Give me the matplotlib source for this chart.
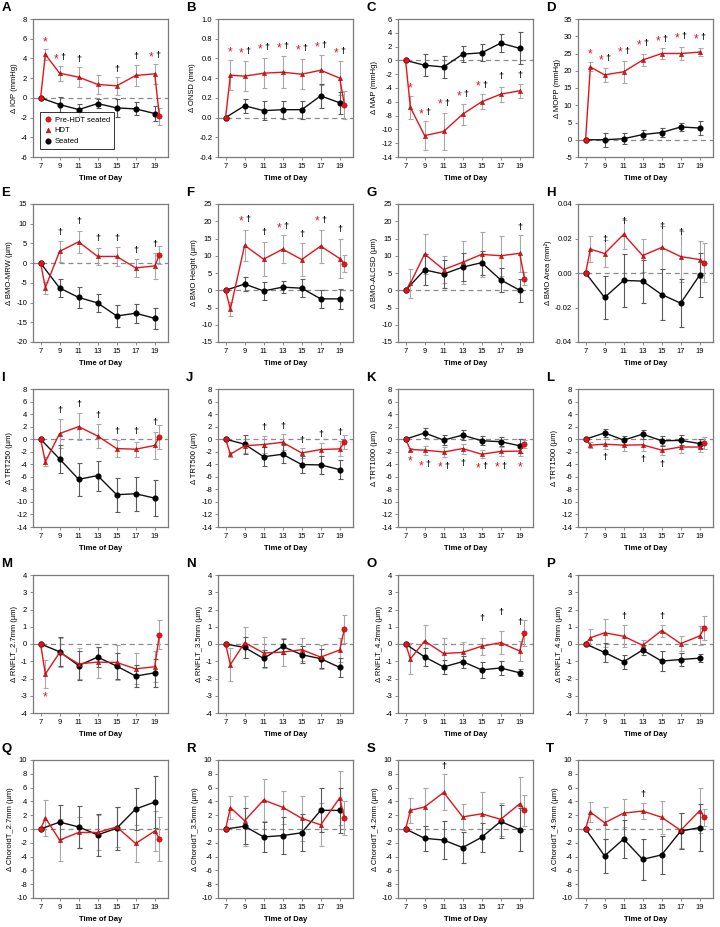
#!/usr/bin/env python3
"""Diurnal change panels: seated vs head-down tilt (HDT), 20 outcome measures."""
import numpy as np
import matplotlib
matplotlib.use("Agg")
import matplotlib.pyplot as plt
from matplotlib.lines import Line2D

plt.rcParams.update({
    "font.family": ["Liberation Sans", "DejaVu Sans"],
    "axes.unicode_minus": False,
    "font.size": 5.5,
})

HOURS_SEATED = [7, 9, 11, 13, 15, 17, 19]
HOURS_HDT = [7.5, 9, 11, 13, 15, 17, 19]
HOURS_PRE = [7, 19.5]

# ---- data (mean change, SD-type bar) ----
A_seat = [0, -0.68, -1.19, -0.58, -1.02, -1.12, -1.59]
A_seat_sd = [0, 0.75, 0.6, 0.45, 0.9, 0.65, 0.75]
A_hdt = [4.4, 2.5, 2.1, 1.36, 1.22, 2.27, 2.44]
A_hdt_sd = [0.6, 0.75, 1.0, 1.0, 0.9, 1.1, 1.0]
A_pre = [0, -1.86]
A_pre_sd = [0, 0.85]
A_marks = [(7.5, 5.8, "*"), (9, 4.1, "*†"), (11, 3.9, "†"), (15, 2.9, "†"),
           (17, 4.2, "†"), (19, 4.3, "*†")]

B_seat = [0, 0.12, 0.07, 0.08, 0.08, 0.22, 0.15]
B_seat_sd = [0, 0.07, 0.095, 0.09, 0.09, 0.12, 0.11]
B_hdt = [0.43, 0.42, 0.45, 0.46, 0.44, 0.48, 0.40]
B_hdt_sd = [0.15, 0.15, 0.15, 0.16, 0.15, 0.15, 0.17]
B_pre = [0, 0.13]
B_pre_sd = [0, 0.14]
B_marks = [(7.5, 0.68, "*"), (9, 0.67, "*†"), (11, 0.71, "*†"), (13, 0.72, "*†"),
           (15, 0.70, "*†"), (17, 0.73, "*†"), (19, 0.67, "*†")]

C_seat = [0, -0.7, -0.95, 0.9, 1.1, 2.5, 1.75]
C_seat_sd = [0, 1.6, 1.6, 1.2, 1.25, 1.3, 2.3]
C_hdt = [-6.8, -10.9, -10.3, -7.8, -6.0, -4.9, -4.4]
C_hdt_sd = [1.7, 2.05, 2.7, 1.5, 1.1, 1.1, 1.0]
C_pre = [0]
C_pre_sd = [0]
C_marks = [(7.5, -3.8, "*"), (9, -7.6, "*†"), (11, -6.2, "*†"), (13, -5.0, "*†"),
           (15, -3.6, "*†"), (17, -2.3, "†"), (19, -2.2, "†")]

D_seat = [0, 0.0, 0.3, 1.5, 2.1, 3.7, 3.4]
D_seat_sd = [0, 2.0, 1.6, 1.2, 1.2, 1.3, 2.0]
D_hdt = [21.1, 18.8, 19.7, 23.1, 25.0, 25.0, 25.4]
D_hdt_sd = [1.3, 2.0, 3.2, 1.8, 1.5, 2.0, 1.2]
D_pre = [0]
D_pre_sd = [0]
D_marks = [(7.5, 25.2, "*"), (9, 23.5, "*†"), (11, 25.7, "*†"), (13, 27.9, "*†"),
           (15, 29.1, "*†"), (17, 29.8, "*†"), (19, 29.5, "*†")]

E_seat = [0, -6.3, -8.7, -10.1, -13.4, -12.7, -14.0]
E_seat_sd = [0, 2.2, 2.6, 2.2, 2.8, 2.4, 2.6]
E_hdt = [-6.2, 3.0, 5.4, 1.7, 1.7, -1.2, -0.7]
E_hdt_sd = [1.5, 2.7, 2.8, 2.2, 2.5, 2.3, 3.2]
E_pre = [0, 2.1]
E_pre_sd = [0, 2.3]
E_marks = [(9, 7.8, "†"), (11, 10.5, "†"), (13, 6.2, "†"), (15, 6.2, "†"),
           (17, 3.2, "†"), (19, 4.7, "†")]

F_seat = [0, 1.8, -0.2, 0.9, 0.6, -2.5, -2.5]
F_seat_sd = [0, 2.1, 2.7, 1.8, 2.6, 2.6, 2.9]
F_hdt = [-5.5, 13.0, 9.0, 11.9, 8.9, 12.8, 9.2]
F_hdt_sd = [2.0, 4.6, 5.0, 4.0, 4.7, 4.8, 5.7]
F_pre = [0, 7.7]
F_pre_sd = [0, 2.5]
F_marks = [(9, 20.5, "*†"), (11, 16.6, "†"), (13, 18.4, "*†"), (15, 16.2, "†"),
           (17, 20.3, "*†"), (19, 17.6, "†")]

G_seat = [0, 5.9, 4.7, 6.7, 8.0, 3.0, 0.0]
G_seat_sd = [0, 4.5, 4.0, 4.0, 3.5, 3.5, 3.4]
G_hdt = [2.0, 10.5, 6.0, 8.1, 10.4, 10.0, 10.7]
G_hdt_sd = [4.2, 5.8, 4.0, 6.2, 6.5, 5.8, 5.3]
G_pre = [0, 3.4]
G_pre_sd = [0, 2.0]
G_marks = [(19, 18.3, "†")]

H_seat = [0, -0.0142, -0.0043, -0.0047, -0.0125, -0.0175, -0.0012]
H_seat_sd = [0, 0.0125, 0.0155, 0.0125, 0.015, 0.014, 0.013]
H_hdt = [0.0138, 0.0113, 0.0224, 0.0101, 0.0148, 0.0095, 0.0078]
H_hdt_sd = [0.0075, 0.008, 0.0085, 0.0095, 0.0125, 0.015, 0.0105]
H_pre = [0, 0.006]
H_pre_sd = [0, 0.0115]
H_marks = [(9, 0.0193, "†"), (11, 0.030, "†"), (15, 0.0267, "†"), (17, 0.0232, "†")]

I_seat = [0, -3.15, -6.4, -5.8, -8.85, -8.7, -9.4]
I_seat_sd = [0, 2.2, 2.6, 2.4, 2.7, 2.7, 2.9]
I_hdt = [-3.6, 0.9, 2.0, 0.5, -1.5, -1.6, -1.0]
I_hdt_sd = [0.7, 2.3, 2.2, 1.9, 1.3, 1.2, 2.2]
I_pre = [0, 0.4]
I_pre_sd = [0, 1.9]
I_marks = [(9, 4.6, "†"), (11, 5.6, "†"), (13, 3.7, "†"), (15, 1.3, "†"),
           (17, 1.3, "†"), (19, 2.6, "†")]

J_seat = [0, -0.8, -2.8, -2.4, -4.05, -4.1, -4.85]
J_seat_sd = [0, 1.5, 1.5, 1.4, 1.4, 1.4, 1.5]
J_hdt = [-2.4, -1.05, -0.85, -0.5, -2.2, -1.65, -1.55]
J_hdt_sd = [0.4, 1.1, 1.3, 1.3, 0.8, 1.0, 1.2]
J_pre = [0, -0.5]
J_pre_sd = [0, 1.1]
J_marks = [(11, 1.9, "†"), (13, 2.1, "†"), (15, -0.15, "†"), (17, 0.8, "†"), (19, 1.05, "†")]

K_seat = [0, 1.0, -0.15, 0.65, -0.25, -0.4, -1.05]
K_seat_sd = [0, 0.75, 0.8, 0.75, 0.75, 0.75, 1.1]
K_hdt = [-1.65, -1.75, -2.05, -1.5, -2.4, -1.95, -1.9]
K_hdt_sd = [0.3, 0.7, 0.8, 0.8, 0.6, 0.75, 0.75]
K_pre = [0, -0.8]
K_pre_sd = [0, 0.6]
K_marks = [(7.5, -3.35, "*"), (9, -4.05, "*†"), (11, -4.3, "*†"), (13, -3.8, "†"),
           (15, -4.4, "*†"), (17, -4.3, "*†"), (19, -4.2, "*")]

L_seat = [0, 1.0, -0.15, 0.8, -0.25, -0.2, -0.7]
L_seat_sd = [0, 0.6, 0.7, 0.7, 0.8, 0.8, 0.7]
L_hdt = [-0.95, -0.8, -0.95, -0.9, -1.75, -1.25, -1.25]
L_hdt_sd = [0.45, 0.8, 0.9, 1.0, 0.8, 0.95, 0.8]
L_pre = [0, -0.6]
L_pre_sd = [0, 0.9]
L_marks = [(9, -3.0, "†"), (13, -3.2, "†"), (15, -4.05, "†")]

M_seat = [0, -0.45, -1.25, -0.76, -1.28, -1.86, -1.67]
M_seat_sd = [0, 0.85, 0.85, 0.6, 0.75, 0.65, 0.8]
M_hdt = [-1.75, -0.49, -1.15, -1.05, -1.07, -1.44, -1.32]
M_hdt_sd = [0.8, 0.85, 0.9, 0.9, 1.0, 0.9, 0.9]
M_pre = [0, 0.54]
M_pre_sd = [0, 0.85]
M_marks = [(7.5, -3.0, "*")]

N_seat = [0, -0.2, -0.84, -0.14, -0.62, -0.85, -1.36]
N_seat_sd = [0, 0.6, 0.5, 0.45, 0.5, 0.55, 0.55]
N_hdt = [-1.2, 0.08, -0.52, -0.47, -0.33, -0.76, -0.35]
N_hdt_sd = [0.95, 0.9, 0.9, 0.8, 0.65, 0.7, 0.7]
N_pre = [0, 0.89]
N_pre_sd = [0, 0.82]
N_marks = []

O_seat = [0, -0.75, -1.33, -1.02, -1.5, -1.39, -1.67]
O_seat_sd = [0, 0.5, 0.4, 0.35, 0.45, 0.4, 0.2]
O_hdt = [-0.86, 0.17, -0.55, -0.49, -0.13, 0.08, -0.41]
O_hdt_sd = [0.9, 0.95, 0.9, 0.6, 0.5, 0.65, 0.6]
O_pre = [0, 0.62]
O_pre_sd = [0, 0.75]
O_marks = [(15, 1.45, "†"), (17, 1.85, "†"), (19, 1.27, "†")]

P_seat = [0, -0.49, -1.03, -0.35, -0.99, -0.9, -0.82]
P_seat_sd = [0, 0.55, 0.4, 0.3, 0.6, 0.35, 0.25]
P_hdt = [0.36, 0.65, 0.45, -0.08, 0.78, 0.02, 0.47]
P_hdt_sd = [0.5, 0.8, 0.65, 0.3, 0.35, 0.45, 0.55]
P_pre = [0, 0.93]
P_pre_sd = [0, 0.7]
P_marks = [(11, 1.6, "†"), (15, 1.6, "†")]

Q_seat = [0, 1.0, 0.3, -0.85, 0.1, 2.9, 3.9]
Q_seat_sd = [0, 2.5, 3.0, 3.0, 3.1, 3.0, 3.8]
Q_hdt = [1.6, -1.6, -0.5, -0.5, 0.3, -2.1, -0.3]
Q_hdt_sd = [2.6, 3.1, 2.3, 2.6, 2.9, 2.7, 2.9]
Q_pre = [0, -1.4]
Q_pre_sd = [0, 3.2]
Q_marks = []

R_seat = [0, 0.4, -1.15, -0.95, -0.55, 2.7, 2.7]
R_seat_sd = [0, 2.6, 2.2, 2.7, 2.7, 3.2, 3.3]
R_hdt = [3.1, 1.2, 4.2, 3.15, 1.55, 0.6, 4.5]
R_hdt_sd = [1.7, 3.6, 3.1, 2.4, 3.3, 3.1, 3.9]
R_pre = [0, 1.6]
R_pre_sd = [0, 2.5]
R_marks = []

S_seat = [0, -1.35, -1.6, -2.7, -1.2, 1.1, -0.1]
S_seat_sd = [0, 1.85, 2.7, 2.25, 2.1, 2.4, 3.1]
S_hdt = [2.7, 3.2, 5.3, 1.75, 2.2, 1.4, 3.65]
S_hdt_sd = [1.8, 2.8, 2.6, 1.9, 3.1, 2.4, 3.9]
S_pre = [0, 2.7]
S_pre_sd = [0, 2.3]
S_marks = [(11, 9.0, "†")]

T_seat = [0, -3.9, -1.45, -4.4, -3.75, -0.3, 0.2]
T_seat_sd = [0, 2.5, 2.8, 3.0, 2.7, 2.6, 3.4]
T_hdt = [2.45, 0.9, 2.3, 2.6, 1.7, -0.2, 2.65]
T_hdt_sd = [1.5, 2.3, 2.0, 1.2, 2.4, 2.5, 3.3]
T_pre = [0, 1.7]
T_pre_sd = [0, 1.2]
T_marks = [(13, 5.0, "†")]

YLABELS = {
    "A": "Δ IOP (mmHg)", "B": "Δ ONSD (mm)", "C": "Δ MAP (mmHg)", "D": "Δ MOPP (mmHg)",
    "E": "Δ BMO-MRW (µm)", "F": "Δ BMO Height (µm)", "G": "Δ BMO-ALCSD (µm)",
    "H": "Δ BMO Area (mm²)",
    "I": "Δ TRT250 (µm)", "J": "Δ TRT500 (µm)", "K": "Δ TRT1000 (µm)", "L": "Δ TRT1500 (µm)",
    "M": "Δ RNFLT_2.7mm (µm)", "N": "Δ RNFLT_3.5mm (µm)", "O": "Δ RNFLT_4.2mm (µm)",
    "P": "Δ RNFLT_4.9mm (µm)",
    "Q": "Δ ChoroidT_2.7mm (µm)", "R": "Δ ChoroidT_3.5mm (µm)", "S": "Δ ChoroidT_4.2mm (µm)",
    "T": "Δ ChoroidT_4.9mm (µm)",
}
# (ymin, ymax, step, tick format)
YAXES = {
    "A": (-6, 8, 2, "{:.0f}"), "B": (-0.4, 1.0, 0.2, "{:.1f}"), "C": (-14, 6, 2, "{:.0f}"),
    "D": (-5, 35, 5, "{:.0f}"), "E": (-20, 15, 5, "{:.0f}"), "F": (-15, 25, 5, "{:.0f}"),
    "G": (-15, 25, 5, "{:.0f}"), "H": (-0.04, 0.04, 0.02, "{:.2f}"),
    "I": (-14, 8, 2, "{:.0f}"), "J": (-14, 8, 2, "{:.0f}"), "K": (-14, 8, 2, "{:.0f}"),
    "L": (-14, 8, 2, "{:.0f}"),
    "M": (-4, 4, 1, "{:.0f}"), "N": (-4, 4, 1, "{:.0f}"), "O": (-4, 4, 1, "{:.0f}"),
    "P": (-4, 4, 1, "{:.0f}"),
    "Q": (-10, 10, 2, "{:.0f}"), "R": (-10, 10, 2, "{:.0f}"), "S": (-10, 10, 2, "{:.0f}"),
    "T": (-10, 10, 2, "{:.0f}"),
}

RED = "#e4141b"
SPINE = "#7a7a7a"
COL_LEFT = [33, 218, 398, 578]
ROW_TOP = [19, 204, 389, 575, 760]
W_PX, H_PX = 135, 138


def draw_marks(ax, marks):
    for x, y, kind in marks:
        if kind == "*†":
            ax.annotate("*", (x, y), xytext=(-2.6, -1.2), textcoords="offset points",
                        ha="center", va="center", color=RED, fontsize=8.5)
            ax.annotate("†", (x, y), xytext=(2.4, 0), textcoords="offset points",
                        ha="center", va="center", color="black", fontsize=6.5,
                        fontweight="bold")
        elif kind == "*":
            ax.annotate("*", (x, y), xytext=(0, -1.2), textcoords="offset points",
                        ha="center", va="center", color=RED, fontsize=8.5)
        else:
            ax.annotate("†", (x, y), ha="center", va="center", color="black",
                        fontsize=6.5, fontweight="bold")


def panel(ax, key):
    g = globals()
    seat, seat_sd = g[key + "_seat"], g[key + "_seat_sd"]
    hdt, hdt_sd = g[key + "_hdt"], g[key + "_hdt_sd"]
    pre, pre_sd = g[key + "_pre"], g[key + "_pre_sd"]
    pre_x = HOURS_PRE[:len(pre)]

    ax.axhline(0, color="#8a8a8a", lw=0.9, ls=(0, (4, 3)), zorder=1)

    ekw = dict(fmt="none", elinewidth=0.8, capsize=1.8, capthick=0.8, zorder=2)
    ax.errorbar(HOURS_HDT, hdt, yerr=hdt_sd, ecolor="#a8a8a8", **ekw)
    ax.errorbar(pre_x, pre, yerr=pre_sd, ecolor="#a8a8a8", **ekw)
    ax.errorbar(HOURS_SEATED, seat, yerr=seat_sd, ecolor="#5a5a5a", **ekw)

    ax.plot(HOURS_SEATED, seat, color="#111111", lw=1.0, marker="o", ms=3.4,
            mfc="black", mec="black", zorder=3)
    red_x = [pre_x[0]] + HOURS_HDT + pre_x[1:]
    red_y = [pre[0]] + hdt + pre[1:]
    ax.plot(red_x, red_y, color=RED, lw=1.0, zorder=4)
    ax.plot(HOURS_HDT, hdt, ls="none", marker="^", ms=3.0, mfc=RED, mec="#9a0a0a",
            mew=0.4, zorder=5)
    ax.plot(pre_x, pre, ls="none", marker="o", ms=3.8, mfc=RED, mec="#9a0a0a",
            mew=0.4, zorder=6)

    draw_marks(ax, g[key + "_marks"])

    lo, hi, step, fmt = YAXES[key]
    ticks = np.arange(lo, hi + step / 2, step)
    ax.set_ylim(lo, hi)
    ax.set_yticks(ticks)
    ax.set_yticklabels([fmt.format(t + 0.0) if abs(t) > 1e-9 else fmt.format(0.0)
                        for t in ticks])
    ax.set_xlim(6.2, 20.4)
    ax.set_xticks([7, 9, 11, 13, 15, 17, 19])
    ax.tick_params(length=2.2, width=0.6, pad=2, labelsize=5.5, color=SPINE)
    for s in ax.spines.values():
        s.set_color(SPINE)
        s.set_linewidth(0.9)
    ax.set_xlabel("Time of Day", fontsize=5.5, fontweight="bold", labelpad=3.5)
    ax.set_ylabel(YLABELS[key], fontsize=5.5, labelpad=2)
    ax.text(-0.235, 1.08, key, transform=ax.transAxes, fontsize=9.5,
            fontweight="bold", ha="left", va="center")


def main():
    fig = plt.figure(figsize=(7.2, 9.27), dpi=100)
    keys = "ABCDEFGHIJKLMNOPQRST"
    for i, key in enumerate(keys):
        r, c = divmod(i, 4)
        left = COL_LEFT[c] / 720
        bottom = 1 - (ROW_TOP[r] + H_PX) / 927
        ax = fig.add_axes([left, bottom, W_PX / 720, H_PX / 927])
        panel(ax, key)
        if key == "A":
            handles = [
                Line2D([], [], ls="none", marker="o", ms=3.8, mfc=RED, mec="#9a0a0a",
                       mew=0.4, label="Pre-HDT seated"),
                Line2D([], [], ls="none", marker="^", ms=3.4, mfc=RED, mec="#9a0a0a",
                       mew=0.4, label="HDT"),
                Line2D([], [], ls="none", marker="o", ms=3.4, mfc="black", mec="black",
                       label="Seated"),
            ]
            leg = ax.legend(handles=handles, loc="lower left", bbox_to_anchor=(0.02, 0.03),
                            fontsize=5.5, frameon=True, fancybox=False, handletextpad=0.3,
                            handlelength=1.2, borderpad=0.5, labelspacing=0.45)
            leg.get_frame().set_edgecolor("black")
            leg.get_frame().set_linewidth(0.7)
    fig.savefig("out.png", dpi=100)


if __name__ == "__main__":
    main()
